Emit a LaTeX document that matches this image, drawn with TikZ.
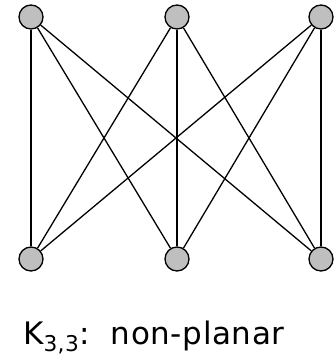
\documentclass[tikz,border=0pt]{standalone}
\usepackage{fontspec}
\setmainfont{DejaVu Sans}
\usepackage{tikz}

\begin{document}
\begin{tikzpicture}[x=1pt, y=-1pt,
  vertex/.style={circle, draw=black, fill=black!25, line width=1.3pt, minimum size=24pt, inner sep=0pt},
  edge/.style={line width=1.3pt}]
\useasboundingbox (0,0) rectangle (334,361);
\node[vertex] (a1) at (31,17) {};
\node[vertex] (a2) at (177,17) {};
\node[vertex] (a3) at (321,17) {};
\node[vertex] (b1) at (31,259) {};
\node[vertex] (b2) at (177,259) {};
\node[vertex] (b3) at (321,259) {};
\foreach \i in {1,2,3} {
  \foreach \j in {1,2,3} {
    \draw[edge] (a\i) -- (b\j);
  }
}
\node[anchor=base west, inner sep=0pt, font=\fontsize{31}{37}\selectfont\addfontfeature{LetterSpace=2}] (lbl) at (23,344) {K\textsubscript{3,3}:\ \ non-planar};
\end{tikzpicture}
\end{document}
